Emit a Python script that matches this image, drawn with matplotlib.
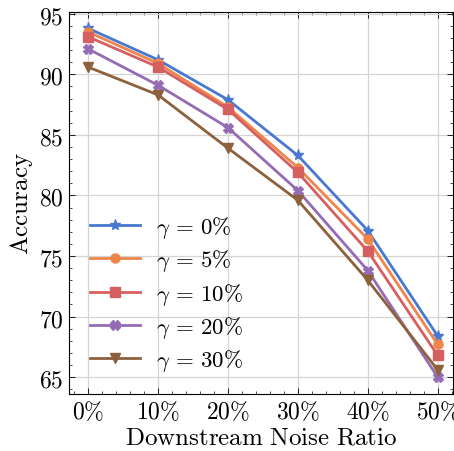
import numpy as np
import matplotlib
matplotlib.use("Agg")
import matplotlib.pyplot as plt
from matplotlib.ticker import MultipleLocator, FuncFormatter

# noise ratio on the downstream task (%)
noise = [0, 10, 20, 30, 40, 50]

# accuracy per pre-training noise level gamma
acc_g0 = [93.8, 91.2, 87.9, 83.3, 77.1, 68.4]
acc_g5 = [93.5, 90.9, 87.3, 82.3, 76.4, 67.7]
acc_g10 = [93.1, 90.6, 87.1, 81.9, 75.4, 66.8]
acc_g20 = [92.1, 89.1, 85.6, 80.4, 73.8, 65.0]
acc_g30 = [90.6, 88.3, 83.9, 79.6, 73.0, 65.6]

labels = [r"$\gamma\,=\,0\%$", r"$\gamma\,=\,5\%$", r"$\gamma\,=\,10\%$",
          r"$\gamma\,=\,20\%$", r"$\gamma\,=\,30\%$"]
colors = ["#4878d0", "#ee854a", "#d65f5f", "#956cb4", "#8c613c"]
markers = ["*", "o", "s", "X", "v"]

plt.rcParams["mathtext.fontset"] = "cm"
plt.rcParams["font.size"] = 13

fig = plt.figure(figsize=(4.54, 4.52), dpi=100)
ax = fig.add_axes([69 / 454, 1 - 395 / 452, (453 - 69) / 454, (395 - 13) / 452])

series = [acc_g0, acc_g5, acc_g10, acc_g20, acc_g30]
for ys, lab, c, m in zip(series, labels, colors, markers):
    ms = 8 if m == "*" else 6.5
    ax.plot(noise, ys, color=c, marker=m, markersize=ms, linewidth=2,
            label=lab)

ax.set_xlim(-2.75, 52.2)
ax.set_ylim(63.6, 95.15)
ax.set_xticks(noise)
ax.set_yticks([65, 70, 75, 80, 85, 90, 95])
ax.xaxis.set_major_formatter(FuncFormatter(lambda v, p: r"$%d\%%$" % v))
ax.yaxis.set_major_formatter(FuncFormatter(lambda v, p: r"$%d$" % v))
ax.xaxis.set_minor_locator(MultipleLocator(2))
ax.yaxis.set_minor_locator(MultipleLocator(1))
ax.tick_params(which="both", direction="in", top=True, right=True,
               labelsize=17)
ax.tick_params(which="major", length=4, width=0.6, pad=4)
ax.tick_params(which="minor", length=2, width=0.5)
for s in ax.spines.values():
    s.set_linewidth(0.8)
ax.grid(True, color="#d4d4d4", linewidth=0.9)

ax.set_xlabel(r"$\mathrm{Downstream\ Noise\ Ratio}$", fontsize=18, labelpad=1)
ax.set_ylabel(r"$\mathrm{Accuracy}$", fontsize=18, labelpad=3)

ax.legend(loc="lower left", bbox_to_anchor=(0.0, 0.0), frameon=False,
          fontsize=16.5, handlelength=2.2, labelspacing=0.32, handletextpad=0.7,
          borderaxespad=0.5)

fig.savefig("out.png", dpi=100)
